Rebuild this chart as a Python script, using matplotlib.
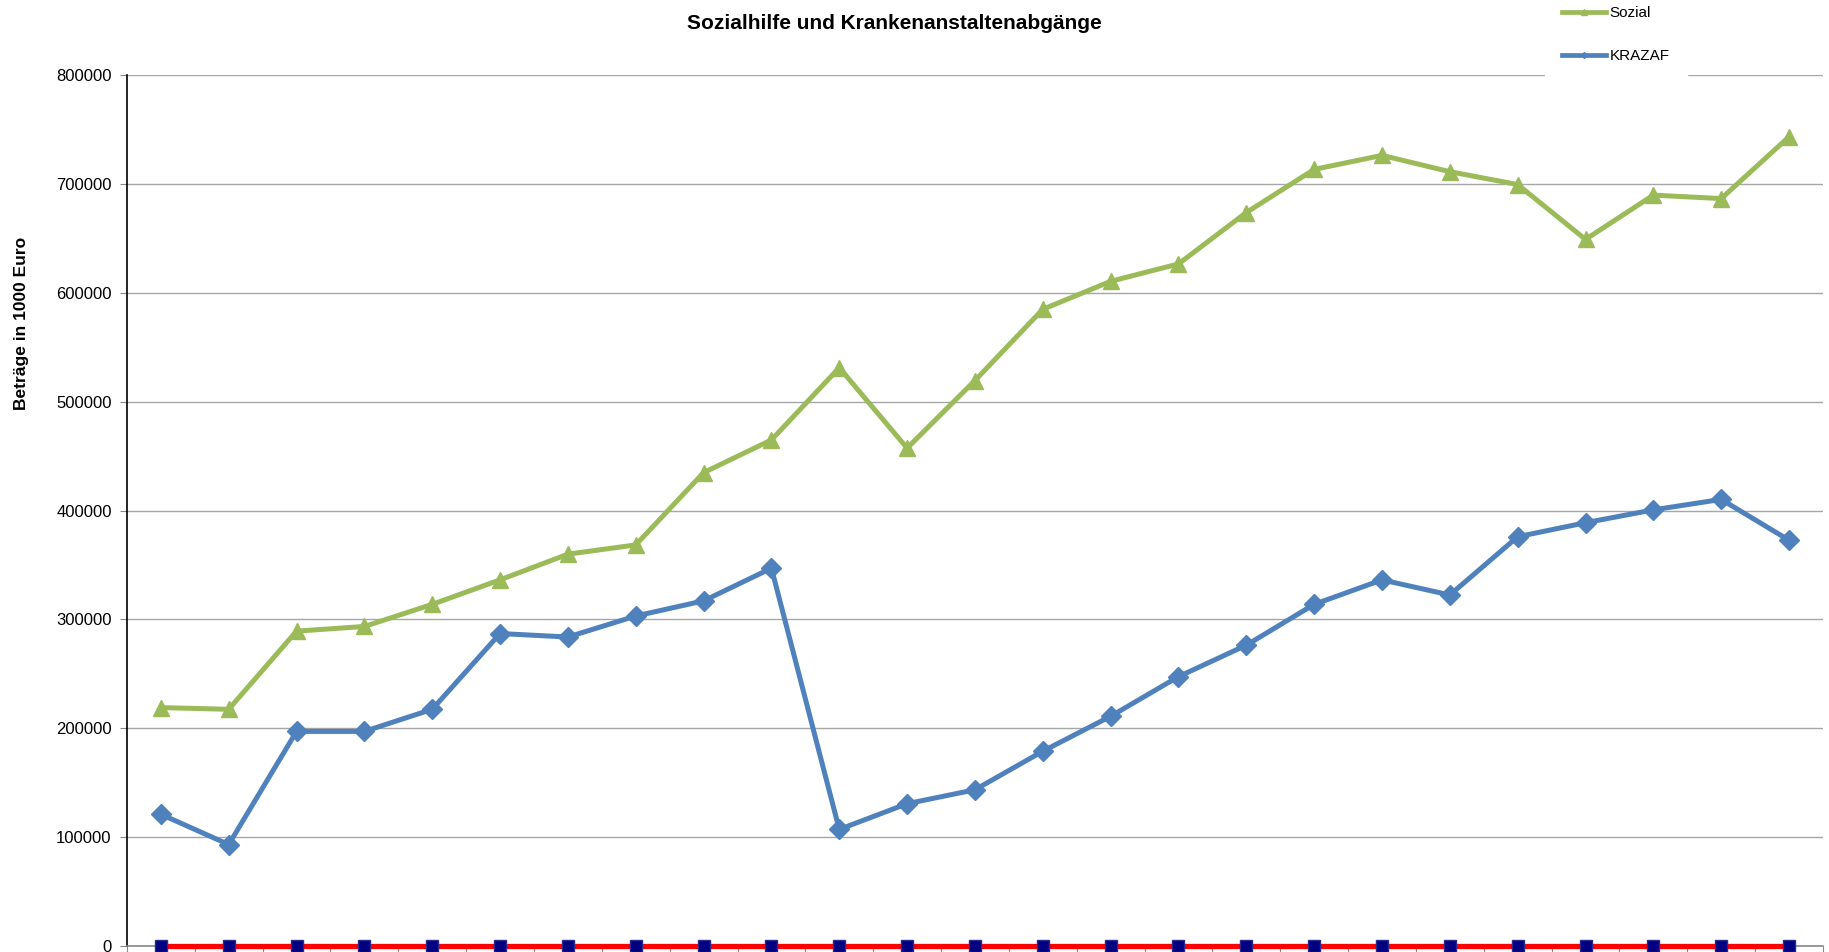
#!/usr/bin/env python3
import matplotlib
matplotlib.use('Agg')
import matplotlib.pyplot as plt
from matplotlib.lines import Line2D
import numpy as np

plt.rcParams['font.family'] = ['Liberation Sans', 'DejaVu Sans']

# values (25 periods, x labels are cut off in the source)
sozial = [219000, 217400, 289200, 293500, 313800, 336300, 359900, 368400, 434800,
          464800, 531200, 457300, 519400, 584800, 610500, 626500, 673700, 713300,
          726200, 711200, 699400, 649000, 689700, 686500, 743300]
krazaf = [121000, 93200, 197100, 197100, 217400, 287000, 283800, 303100, 317000,
          347000, 107100, 130700, 143500, 178900, 211000, 247400, 276300, 313800,
          336300, 322400, 375900, 388800, 400600, 410200, 372700]
null_line = [0] * 25

title = 'Sozialhilfe und Krankenanstaltenabgänge'
ylabel = 'Beträge in 1000 Euro'
yticks = [0, 100000, 200000, 300000, 400000, 500000, 600000, 700000, 800000]

green = '#9BBB59'
blue = '#4F81BD'

fig = plt.figure(figsize=(18.29, 9.52), dpi=100)
ax = fig.add_axes([0.0694, 0.0063, 0.9273, 0.9149])

x = np.arange(len(sozial))

ax.plot(x, sozial, color=green, lw=3.6, marker='^', ms=12, mfc=green, mec=green,
        zorder=4)
ax.plot(x, krazaf, color=blue, lw=3.6, marker='D', ms=10, mfc=blue, mec=blue,
        zorder=4)
ax.plot(x, null_line, color='#FF0000', lw=3.8, marker='s', ms=8,
        mfc='#000080', mec='#2A2A90', zorder=5, clip_on=False)

ax.set_xlim(-0.5, len(sozial) - 0.5)
ax.set_ylim(0, 800000)
ax.set_yticks(yticks)
ax.set_yticklabels([str(v) for v in yticks], fontsize=12)
ax.set_xticks(np.arange(-0.5, len(sozial), 1.0))
ax.set_xticklabels([])

ax.grid(True, axis='y', color='#A6A6A6', lw=1)
ax.set_axisbelow(True)
for s in ['top', 'right']:
    ax.spines[s].set_visible(False)
ax.spines['left'].set_color('black')
ax.spines['left'].set_linewidth(1.2)
ax.spines['bottom'].set_color('#888888')
ax.spines['bottom'].set_linewidth(1.2)
ax.tick_params(axis='y', length=5, color='#888888', pad=6)
ax.tick_params(axis='x', length=6, color='#888888')

ax.set_ylabel(ylabel, fontsize=12.5, fontweight='bold')
ax.yaxis.set_label_coords(-0.058, 0.715)

fig.text(0.489, 0.975, title, ha='center', va='center', fontsize=15,
         fontweight='bold')

# legend box is white and hides a bit of the top gridline, as in the source
handles = [Line2D([0], [0], color=green, lw=3.4, marker='^', ms=4),
           Line2D([0], [0], color=blue, lw=3.4, marker='D', ms=3)]
leg = fig.legend(handles, ['Sozial', 'KRAZAF'], loc='upper left',
                 bbox_to_anchor=(0.8405, 1.019), fontsize=11, frameon=True,
                 fancybox=False, edgecolor='white', framealpha=1,
                 handlelength=2.9, handletextpad=0.25, labelspacing=1.9,
                 borderpad=1.1)

fig.savefig('out.png', dpi=100)
